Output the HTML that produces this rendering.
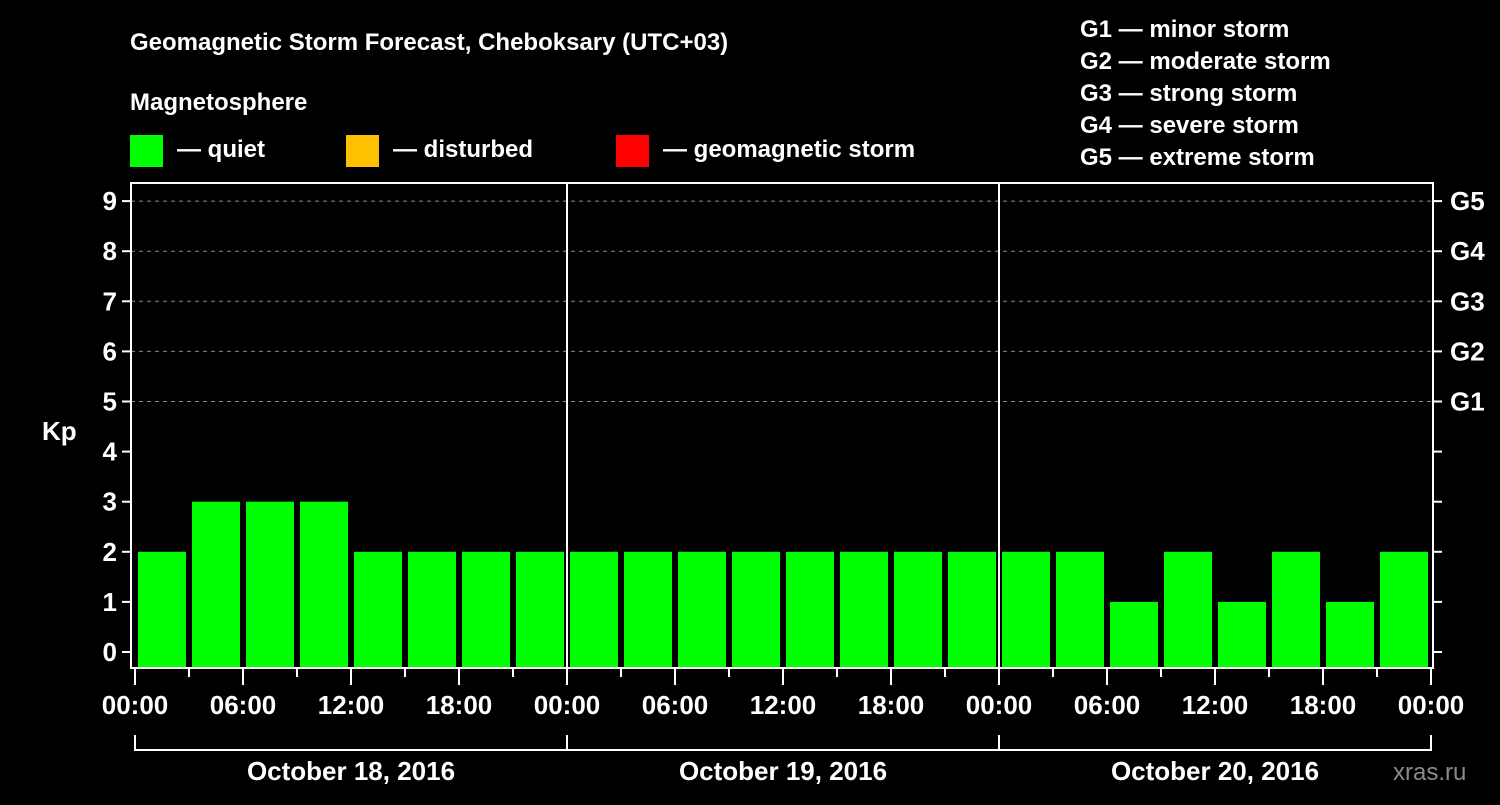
<!DOCTYPE html>
<html><head><meta charset="utf-8"><style>
body{margin:0;background:#000;}
svg text{font-family:"Liberation Sans",Arial,sans-serif;font-weight:bold;fill:#fff;}
</style></head><body>
<svg id="chart" width="1500" height="800" xmlns="http://www.w3.org/2000/svg">
<rect width="1500" height="800" fill="#000"/>
<text x="130" y="50" font-size="24">Geomagnetic Storm Forecast, Cheboksary (UTC+03)</text>
<text x="130" y="110" font-size="24">Magnetosphere</text>
<g><rect x="130" y="135" width="33" height="32" fill="#00ff00"/><text x="177" y="157" font-size="24">— quiet</text></g>
<g><rect x="346" y="135" width="33" height="32" fill="#ffc000"/><text x="393" y="157" font-size="24">— disturbed</text></g>
<g><rect x="616" y="135" width="33" height="32" fill="#ff0000"/><text x="663" y="157" font-size="24">— geomagnetic storm</text></g>
<g font-size="24">
<text x="1080" y="37">G1 — minor storm</text>
<text x="1080" y="69">G2 — moderate storm</text>
<text x="1080" y="101">G3 — strong storm</text>
<text x="1080" y="133">G4 — severe storm</text>
<text x="1080" y="165">G5 — extreme storm</text>
</g>
<text x="42" y="440" font-size="26">Kp</text>
<g id="grid"></g><g id="bars"></g><g id="axes"></g>
<text x="1393" y="780" font-size="24" fill="#888" style="fill:#8a8a8a;font-weight:normal">xras.ru</text>
</svg>
<script>
const kpValues=[2,3,3,3,2,2,2,2, 2,2,2,2,2,2,2,2, 2,2,1,2,1,2,1,2];
const dayLabels=["October 18, 2016","October 19, 2016","October 20, 2016"];
const timeLabels=["00:00","06:00","12:00","18:00"];
const gLabels=["G1","G2","G3","G4","G5"];
const yTicks=[0,1,2,3,4,5,6,7,8,9];
const NS="http://www.w3.org/2000/svg";
const L=131,R=1433,T=183,B=668,X0=135,SLOT=54;
const y=v=>652-50.1*v;
const x=i=>X0+SLOT*i;
function mk(tag,attrs,parent,txt){const e=document.createElementNS(NS,tag);for(const k in attrs)e.setAttribute(k,attrs[k]);if(txt!==undefined)e.textContent=txt;parent.appendChild(e);return e;}
const grid=document.getElementById('grid'),bars=document.getElementById('bars'),axes=document.getElementById('axes');
yTicks.forEach(v=>{
 if(v>=5){const g=mk('line',{x1:L,x2:R,y1:y(v),y2:y(v),stroke:'#888','stroke-dasharray':'4,4','stroke-width':1},grid);
 
 }
 const t=mk('line',{x1:L-9,x2:L,y1:y(v),y2:y(v),stroke:'#fff','stroke-width':2},axes);
 
 
 const tr=mk('line',{x1:R,x2:R+9,y1:y(v),y2:y(v),stroke:'#fff','stroke-width':2},axes);
 
 
 const lb=mk('text',{x:L-14,y:y(v)+9,'text-anchor':'end','font-size':26},axes,String(v));
 
 
});
gLabels.forEach((g,i)=>{
 const t=mk('text',{x:1450,y:y(5+i)+9,'font-size':26},axes,g);
 
 
});
kpValues.forEach((v,i)=>{
 const c=v>=5?'#ff0000':(v>=4?'#ffc000':'#00ff00');
 const b=mk('rect',{x:x(i)+3,y:y(v),width:SLOT-6,height:B-y(v),fill:c},bars);
 
 
});
const fr=mk('rect',{x:L,y:T,width:R-L,height:B-T,fill:'none',stroke:'#fff','stroke-width':2},axes);


dayLabels.forEach((d,di)=>{
 if(di>0){const dv=mk('line',{x1:x(di*8),x2:x(di*8),y1:T,y2:B,stroke:'#fff','stroke-width':2},axes);
 
 }
 const br=mk('path',{d:`M${x(di*8)} 735 V750 H${x(di*8+8)} V735`,fill:'none',stroke:'#fff','stroke-width':2},axes);
 
 
 const dl=mk('text',{x:(x(di*8)+x(di*8+8))/2,y:780,'text-anchor':'middle','font-size':26},axes,d);
 
 
});
for(let i=0;i<=24;i++){
 const major=i%2===0;
 const tk=mk('line',{x1:x(i),x2:x(i),y1:B,y2:major?685:677,stroke:'#fff','stroke-width':2},axes);
 
 
 if(major){const lb=mk('text',{x:x(i),y:714,'text-anchor':'middle','font-size':26},axes,timeLabels[(i/2)%4]);
 
 }
}
</script>
</body></html>
